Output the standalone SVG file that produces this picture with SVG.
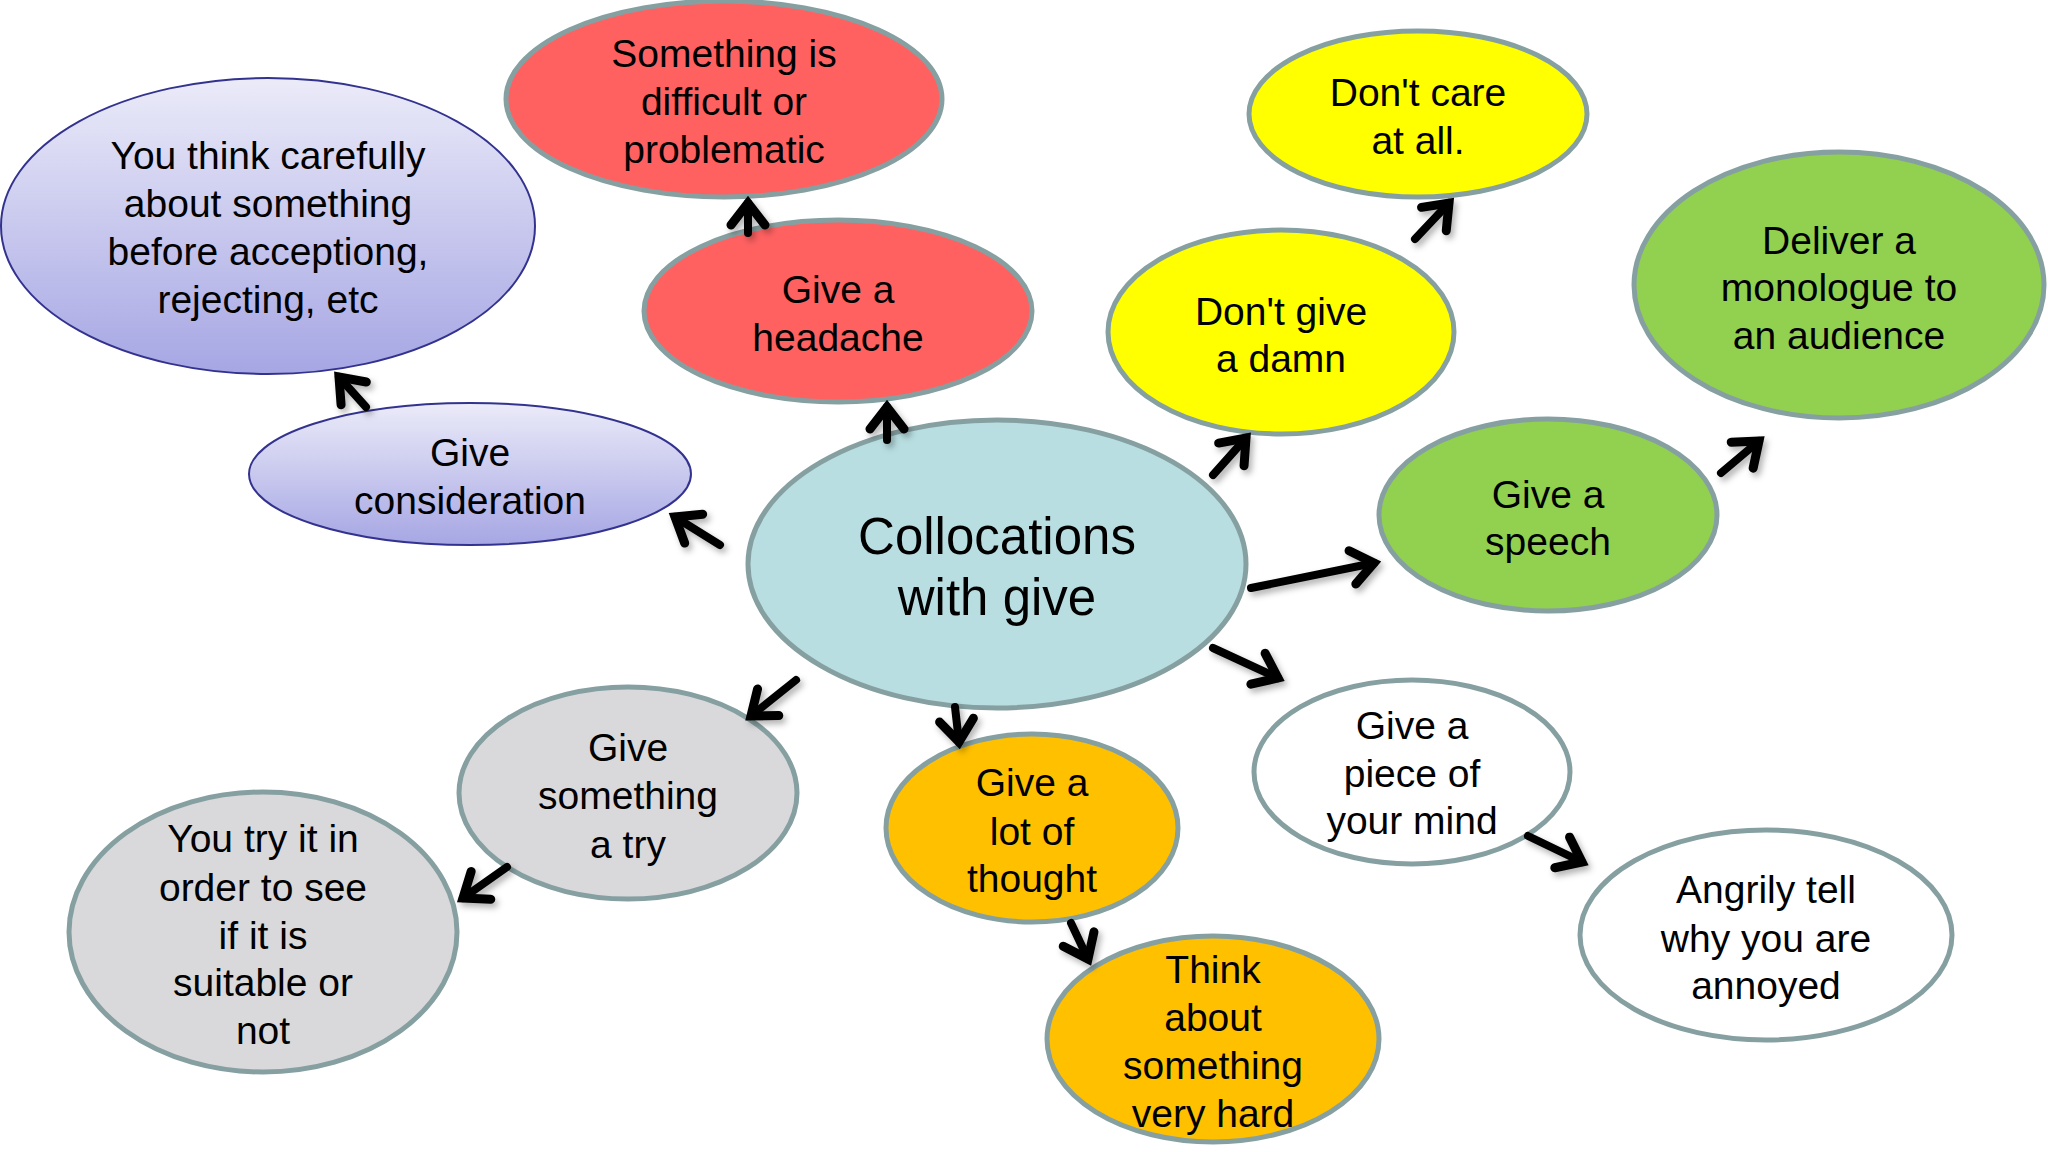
<svg xmlns="http://www.w3.org/2000/svg" width="2048" height="1152" viewBox="0 0 2048 1152">
<defs>
<linearGradient id="lav" x1="0" y1="0" x2="0" y2="1">
<stop offset="0" stop-color="#ebebf9"/>
<stop offset="1" stop-color="#a6a6e4"/>
</linearGradient>
<filter id="sh" x="-20%" y="-20%" width="140%" height="140%">
<feDropShadow dx="3" dy="4" stdDeviation="3" flood-color="#000" flood-opacity="0.3"/>
</filter>
<marker id="ah" markerUnits="userSpaceOnUse" markerWidth="46" markerHeight="46" viewBox="0 0 46 46" refX="35" refY="23" orient="auto">
<path d="M13,6 L35,23 L13,40" fill="none" stroke="#000" stroke-width="9" stroke-linecap="round" stroke-linejoin="miter"/>
</marker>
</defs>
<style>
.n{stroke:#86a0a2;stroke-width:5}
.lv{fill:url(#lav);stroke:#33338f;stroke-width:2}
.t{font-family:"Liberation Sans",Arial,sans-serif;font-size:39px;fill:#000;text-anchor:middle}
.tc{font-family:"Liberation Sans",Arial,sans-serif;font-size:51px;fill:#000;text-anchor:middle}
.c line{stroke:#000;stroke-width:8;stroke-linecap:round;marker-end:url(#ah)}
</style>
<rect width="2048" height="1152" fill="#fff"/>

<g id="n-think-carefully">
<ellipse class="lv" cx="268" cy="226" rx="267" ry="148"/>
<text class="t" x="268" y="169">You think carefully</text>
<text class="t" x="268" y="217">about something</text>
<text class="t" x="268" y="265">before acceptiong,</text>
<text class="t" x="268" y="313">rejecting, etc</text>
</g>
<g id="n-give-consideration">
<ellipse class="lv" cx="470" cy="474" rx="221" ry="71"/>
<text class="t" x="470" y="466">Give</text>
<text class="t" x="470" y="514">consideration</text>
</g>
<g id="n-difficult">
<ellipse class="n" cx="724" cy="99" rx="218" ry="98" fill="#ff6161"/>
<text class="t" x="724" y="67">Something is</text>
<text class="t" x="724" y="115">difficult or</text>
<text class="t" x="724" y="163">problematic</text>
</g>
<g id="n-headache">
<ellipse class="n" cx="838" cy="311" rx="194" ry="91" fill="#ff6161"/>
<text class="t" x="838" y="303">Give a</text>
<text class="t" x="838" y="351">headache</text>
</g>
<g id="n-dont-care">
<ellipse class="n" cx="1418" cy="114" rx="169" ry="83" fill="#ffff00"/>
<text class="t" x="1418" y="106">Don't care</text>
<text class="t" x="1418" y="154">at all.</text>
</g>
<g id="n-dont-give-damn">
<ellipse class="n" cx="1281" cy="332" rx="173" ry="102" fill="#ffff00"/>
<text class="t" x="1281" y="325">Don't give</text>
<text class="t" x="1281" y="372">a damn</text>
</g>
<g id="n-deliver">
<ellipse class="n" cx="1839" cy="285" rx="205" ry="133" fill="#92d050"/>
<text class="t" x="1839" y="254">Deliver a</text>
<text class="t" x="1839" y="301">monologue to</text>
<text class="t" x="1839" y="349">an audience</text>
</g>
<g id="n-speech">
<ellipse class="n" cx="1548" cy="515" rx="169" ry="96" fill="#92d050"/>
<text class="t" x="1548" y="508">Give a</text>
<text class="t" x="1548" y="555">speech</text>
</g>
<g id="n-center">
<ellipse class="n" cx="997" cy="564" rx="249" ry="144" fill="#b8dee1"/>
<text class="tc" x="997" y="554">Collocations</text>
<text class="tc" x="997" y="615">with give</text>
</g>
<g id="n-piece-mind">
<ellipse class="n" cx="1412" cy="772" rx="158" ry="92" fill="#ffffff"/>
<text class="t" x="1412" y="739">Give a</text>
<text class="t" x="1412" y="787">piece of</text>
<text class="t" x="1412" y="834">your mind</text>
</g>
<g id="n-angrily">
<ellipse class="n" cx="1766" cy="935" rx="186" ry="105" fill="#ffffff"/>
<text class="t" x="1766" y="903">Angrily tell</text>
<text class="t" x="1766" y="952">why you are</text>
<text class="t" x="1766" y="999">annoyed</text>
</g>
<g id="n-lot-thought">
<ellipse class="n" cx="1032" cy="828" rx="146" ry="94" fill="#ffc000"/>
<text class="t" x="1032" y="796">Give a</text>
<text class="t" x="1032" y="845">lot of</text>
<text class="t" x="1032" y="892">thought</text>
</g>
<g id="n-think-hard">
<ellipse class="n" cx="1213" cy="1039" rx="166" ry="103" fill="#ffc000"/>
<text class="t" x="1213" y="983">Think</text>
<text class="t" x="1213" y="1031">about</text>
<text class="t" x="1213" y="1079">something</text>
<text class="t" x="1213" y="1127">very hard</text>
</g>
<g id="n-give-try">
<ellipse class="n" cx="628" cy="793" rx="169" ry="106" fill="#d9d9db"/>
<text class="t" x="628" y="761">Give</text>
<text class="t" x="628" y="809">something</text>
<text class="t" x="628" y="858">a try</text>
</g>
<g id="n-you-try">
<ellipse class="n" cx="263" cy="932" rx="194" ry="140" fill="#d9d9db"/>
<text class="t" x="263" y="852">You try it in</text>
<text class="t" x="263" y="901">order to see</text>
<text class="t" x="263" y="949">if it is</text>
<text class="t" x="263" y="996">suitable or</text>
<text class="t" x="263" y="1044">not</text>
</g>

<g id="connectors" class="c" filter="url(#sh)">
<line x1="720" y1="545" x2="675" y2="517"/>
<line x1="366" y1="407" x2="339" y2="377"/>
<line x1="887" y1="440" x2="887" y2="407"/>
<line x1="748" y1="233" x2="748" y2="203"/>
<line x1="1213" y1="475" x2="1246" y2="438"/>
<line x1="1415" y1="239" x2="1449" y2="203"/>
<line x1="1251" y1="588" x2="1374" y2="563"/>
<line x1="1721" y1="473" x2="1759" y2="441"/>
<line x1="1213" y1="648" x2="1278" y2="678"/>
<line x1="1528" y1="836" x2="1582" y2="862"/>
<line x1="955" y1="707" x2="959" y2="742"/>
<line x1="1071" y1="923" x2="1088" y2="959"/>
<line x1="796" y1="680" x2="751" y2="716"/>
<line x1="507" y1="867" x2="463" y2="898"/>
</g>
</svg>
